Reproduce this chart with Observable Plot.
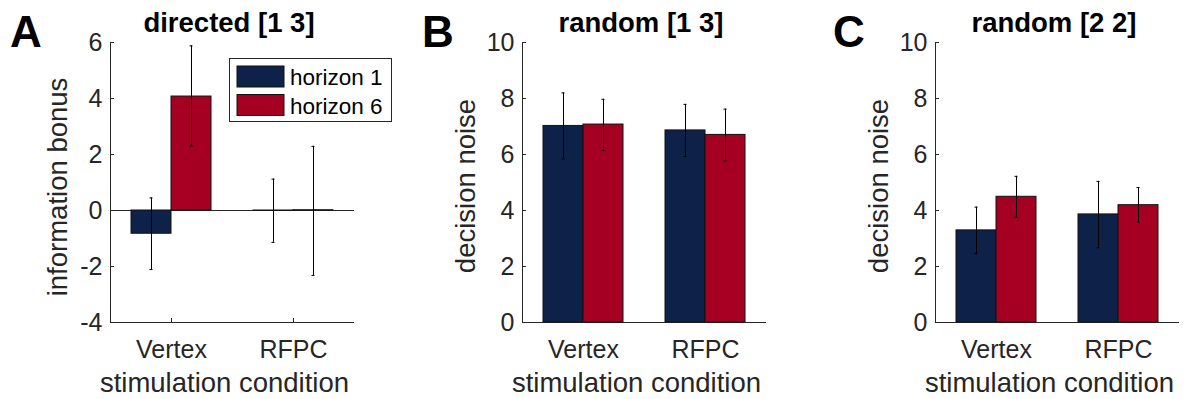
<!DOCTYPE html>
<html>
<head>
<meta charset="utf-8">
<script src="https://cdn.jsdelivr.net/npm/d3@7"></script>
<script src="https://cdn.jsdelivr.net/npm/@observablehq/plot@0.6"></script>
<style>
  html, body { margin: 0; padding: 0; background: #fff; }
  #wrap { position: relative; width: 1184px; height: 399px; overflow: hidden; background: #fff; }
  #wrap svg { position: absolute; top: 0; }
</style>
</head>
<body>
<div id="wrap"></div>
<script>
// ---------- data ----------
const conditions = ["Vertex", "RFPC"];
const horizons = ["horizon 1", "horizon 6"];
const colors = ["#0e2249", "#a50021"];
const panelLetters = ["A", "B", "C"];
const panelTitles = ["directed [1 3]", "random [1 3]", "random [2 2]"];
const yLabels = ["information bonus", "decision noise", "decision noise"];
const xLabel = "stimulation condition";
const yDomainA = [-4, 6];
const yDomainB = [0, 10];
const yDomainC = [0, 10];
const yTicksA = [-4, -2, 0, 2, 4, 6];
const yTicksB = [0, 2, 4, 6, 8, 10];
const yTicksC = [0, 2, 4, 6, 8, 10];
// order: Vertex/h1, Vertex/h6, RFPC/h1, RFPC/h6
const meanA = [-0.83, 4.07, -0.01, 0.01];
const lowA  = [-2.11, 2.29, -1.14, -2.32];
const highA = [0.45, 5.88, 1.12, 2.29];
const meanB = [7.02, 7.07, 6.86, 6.70];
const lowB  = [5.84, 6.14, 5.93, 5.77];
const highB = [8.20, 7.97, 7.79, 7.62];
const meanC = [3.29, 4.49, 3.86, 4.19];
const lowC  = [2.46, 3.76, 2.67, 3.59];
const highC = [4.12, 5.22, 5.04, 4.82];

// ---------- layout ----------
const axisColor = "#262626";
const fontFam = "'Liberation Sans', Arial, sans-serif";
const panels = [
  {left: 0,   width: 412, domain: yDomainA, ticks: yTicksA, mean: meanA, lo: lowA, hi: highA, ylabX: 67, ylabY: 187, letterX: 10, legend: true},
  {left: 412, width: 413, domain: yDomainB, ticks: yTicksB, mean: meanB, lo: lowB, hi: highB, ylabX: 63, ylabY: 186, letterX: 10, legend: false},
  {left: 825, width: 359, domain: yDomainC, ticks: yTicksC, mean: meanC, lo: lowC, hi: highC, ylabX: 63, ylabY: 186, letterX: 8, legend: false}
];

const wrap = document.getElementById("wrap");

panels.forEach((p, k) => {
  const rows = [];
  conditions.forEach((c, i) => horizons.forEach((h, j) => {
    const n = i * horizons.length + j;
    rows.push({cond: c, horizon: h, mean: p.mean[n], lo: p.lo[n], hi: p.hi[n]});
  }));

  const chart = Plot.plot({
    width: p.width,
    height: 399,
    marginLeft: 110,
    marginRight: p.width - 110 - 244,
    marginTop: 42,
    marginBottom: 77,
    style: {fontFamily: fontFam, fontSize: "25px", color: axisColor, background: "transparent", overflow: "visible"},
    fx: {domain: conditions, padding: 0, label: null},
    x: {domain: horizons, paddingInner: 0, paddingOuter: 0.5, axis: null},
    y: {domain: p.domain, label: null},
    color: {domain: horizons, range: colors},
    marks: [
      Plot.ruleY([p.domain[0]], {stroke: axisColor, strokeWidth: 1}),
      Plot.ruleY([0], {stroke: axisColor, strokeWidth: 1}),
      Plot.barY(rows, {fx: "cond", x: "horizon", y: "mean", fill: "horizon", stroke: "#111", strokeWidth: 1}),
      Plot.ruleX(rows, {fx: "cond", x: "horizon", y1: "lo", y2: "hi", stroke: "#000", strokeWidth: 1}),
      Plot.tickY(rows, {fx: "cond", x: "horizon", y: "lo", stroke: "#000", strokeWidth: 1, insetLeft: 18.5, insetRight: 18.5}),
      Plot.tickY(rows, {fx: "cond", x: "horizon", y: "hi", stroke: "#000", strokeWidth: 1, insetLeft: 18.5, insetRight: 18.5}),
      Plot.frame({anchor: "left", facetAnchor: "left", stroke: axisColor, strokeWidth: 1}),
      Plot.axisY({ticks: p.ticks, tickFormat: d => String(d), tickSize: -4, tickPadding: 12, label: null, stroke: axisColor, fill: axisColor}),
      Plot.axisFx({anchor: "bottom", tickSize: -4, tickPadding: 22, label: null, stroke: axisColor, fill: axisColor})
    ]
  });
  chart.style.left = p.left + "px";
  wrap.appendChild(chart);

  const svg = d3.select(chart);
  // panel letter
  svg.append("text")
    .attr("x", p.letterX).attr("y", 47).attr("text-anchor", "start")
    .attr("font-family", fontFam)
    .attr("font-weight", "bold").attr("font-size", 44).attr("fill", "#000")
    .text(panelLetters[k]);
  // title
  svg.append("text")
    .attr("x", 229).attr("y", 32).attr("text-anchor", "middle")
    .attr("font-family", fontFam)
    .attr("font-weight", "bold").attr("font-size", 27.5).attr("fill", "#000")
    .text(panelTitles[k]);
  // y label
  svg.append("text")
    .attr("transform", `translate(${p.ylabX},${p.ylabY}) rotate(-90)`)
    .attr("text-anchor", "middle")
    .attr("font-family", fontFam)
    .attr("font-size", 27.5).attr("fill", axisColor)
    .text(yLabels[k]);
  // x label
  svg.append("text")
    .attr("x", 224.5).attr("y", 391.5).attr("text-anchor", "middle")
    .attr("font-family", fontFam)
    .attr("font-size", 27.5).attr("fill", axisColor)
    .text(xLabel);

  if (p.legend) {
    const lg = svg.append("g").attr("font-family", fontFam);
    lg.append("rect").attr("x", 229.5).attr("y", 58.5).attr("width", 162).attr("height", 63)
      .attr("fill", "#fff").attr("stroke", axisColor).attr("stroke-width", 1);
    horizons.forEach((h, i) => {
      lg.append("rect").attr("x", 237).attr("y", 66 + i * 28.5).attr("width", 47).attr("height", 21)
        .attr("fill", colors[i]).attr("stroke", "#111").attr("stroke-width", 1);
      lg.append("text").attr("x", 290).attr("y", 85 + i * 28.5).attr("text-anchor", "start")
        .attr("font-size", 22.5).attr("fill", "#000").text(h);
    });
  }
});
</script>
</body>
</html>
